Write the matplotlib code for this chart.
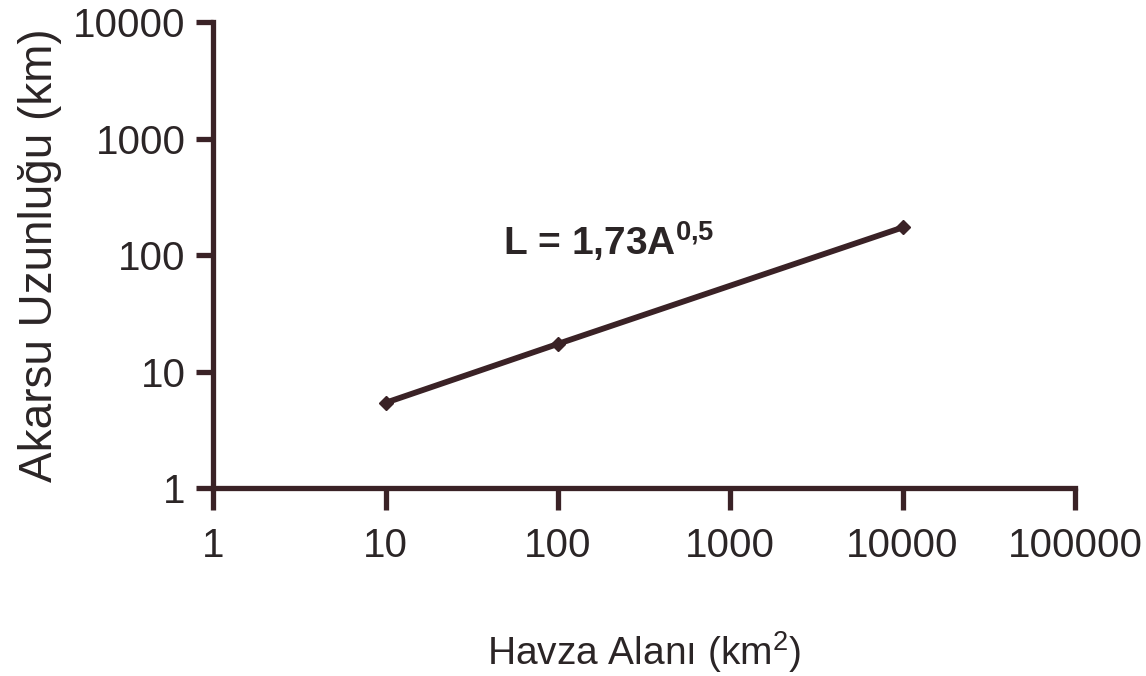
import matplotlib
matplotlib.use("Agg")
import matplotlib.pyplot as plt
from matplotlib.ticker import FixedLocator, FixedFormatter, NullLocator

# havza alanı (km2) ve akarsu uzunluğu (km)
area = [10, 100, 10000]
length = [5.4, 17.3, 173]

x_ticks = [1, 10, 100, 1000, 10000, 100000]
x_labels = ["1", "10", "100", "1000", "10000", "100000"]
y_ticks = [1, 10, 100, 1000, 10000]
y_labels = ["1", "10", "100", "1000", "10000"]

ink = "#3a2226"
txt = "#2b2526"

plt.rcParams['font.family'] = ['Liberation Sans', 'DejaVu Sans']
plt.rcParams['mathtext.fontset'] = 'custom'
plt.rcParams['mathtext.rm'] = 'Liberation Sans'
plt.rcParams['mathtext.bf'] = 'Liberation Sans:bold'

fig = plt.figure(figsize=(11.46, 6.76), dpi=100)
ax = fig.add_axes([0.186, 0.278, 0.752, 0.689])

ax.plot(area, length, color=ink, lw=4.2, marker='D', ms=7, mfc=ink, mec=ink)

ax.set_xscale('log')
ax.set_yscale('log')
ax.set_xlim(1, 100000)
ax.set_ylim(1, 10000)

ax.xaxis.set_major_locator(FixedLocator(x_ticks))
ax.xaxis.set_major_formatter(FixedFormatter(x_labels))
ax.yaxis.set_major_locator(FixedLocator(y_ticks))
ax.yaxis.set_major_formatter(FixedFormatter(y_labels))
ax.xaxis.set_minor_locator(NullLocator())
ax.yaxis.set_minor_locator(NullLocator())

for side in ['top', 'right']:
    ax.spines[side].set_visible(False)
for side in ['left', 'bottom']:
    ax.spines[side].set_color(ink)
    ax.spines[side].set_linewidth(3.8)

ax.tick_params(axis='x', direction='out', length=16, width=3.8, color=ink,
               labelsize=29, labelcolor=txt, pad=12)
ax.tick_params(axis='y', direction='out', length=12, width=3.8, color=ink,
               labelsize=29, labelcolor=txt, pad=8)

ax.set_xlabel(r'Havza Alanı (km$^2$)', fontsize=28, color=txt, labelpad=46)
ax.set_ylabel('Akarsu Uzunluğu (km)', fontsize=33, color=txt, labelpad=8)

ax.text(48, 85, r'L = 1,73A$^{\mathbf{0{,}5}}$', fontsize=28, fontweight='bold',
        color=txt, ha='left', va='bottom')

fig.savefig('out.png', dpi=100, facecolor='white')
